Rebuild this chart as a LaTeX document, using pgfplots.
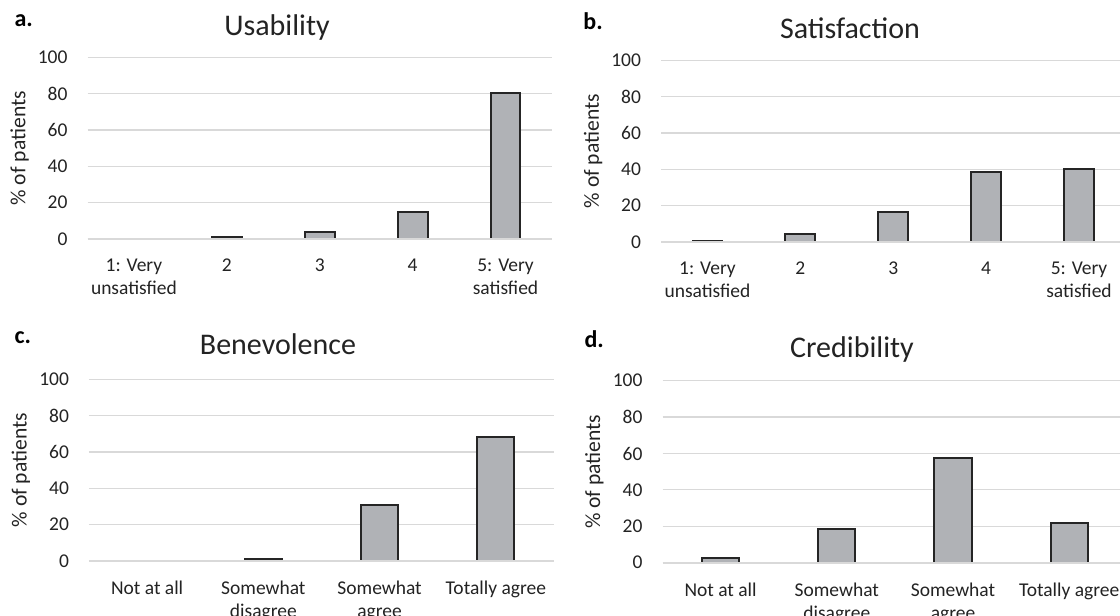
\documentclass[border=0pt]{standalone}
\usepackage{pgfplots}
\pgfplotsset{compat=1.18}
\usepackage{fontspec}
\setmainfont{Carlito}

\definecolor{barfill}{RGB}{176,178,182}
\definecolor{baredge}{RGB}{37,37,37}
\definecolor{gridgray}{RGB}{217,217,217}
\definecolor{textgray}{RGB}{35,35,35}

% 1 px of the reference = 0.5pt
\pgfplotsset{
  panel/.style={
    scale only axis,
    anchor=south west,
    ymin=0, ymax=100,
    ytick={0,20,...,100},
    ymajorgrids,
    grid style={gridgray, line width=0.6pt},
    axis line style={draw=none},
    major tick length=0pt,
    tick style={draw=none},
    ybar, bar width=0.32,
    xtick=data,
    ylabel={\% of patients},
    every axis y label/.style={at={(axis description cs:-0.1463,0.5)}, rotate=90, anchor=center},
    ylabel style={font=\fontsize{10.8}{12}\selectfont, text=textgray},
    ticklabel style={font=\fontsize{9.75}{11.5}\selectfont, text=textgray},
    xticklabel style={align=center, anchor=north},
    yticklabel shift=6.5pt,
    xticklabel shift=6.5pt,
    /pgf/number format/assume math mode=true,
    clip=false,
  },
  bars/.style={fill=barfill, draw=baredge, line width=1pt},
}

\newcommand{\zeroline}{\draw[gridgray, line width=0.9pt] (rel axis cs:0,0) -- (rel axis cs:1,0);}

\begin{document}
\begin{tikzpicture}
\useasboundingbox (0pt,0pt) rectangle (560pt,308pt);
\clip (0pt,0pt) rectangle (560pt,308pt);

% a. Usability
\begin{axis}[panel,
  at={(43.75pt,188.5pt)}, width=232.25pt, height=90.8pt,
  xmin=-0.5, xmax=4.5,
  xticklabels={{1: Very\\unsatisfied},2,3,4,{5: Very\\satisfied}}]
\addplot[bars] coordinates {(0,0) (1,0.9) (2,3.8) (3,14.8) (4,80.6)};
\zeroline
\end{axis}

% b. Satisfaction
\begin{axis}[panel,
  at={(330.5pt,187pt)}, width=232.25pt, height=90.9pt,
  xmin=-0.5, xmax=4.5,
  xticklabels={{1: Very\\unsatisfied},2,3,4,{5: Very\\satisfied}}]
\addplot[bars] coordinates {(0,0.8) (1,4.2) (2,16.5) (3,38.4) (4,40.3)};
\zeroline
\end{axis}

% c. Benevolence
\begin{axis}[panel,
  at={(44.5pt,27.5pt)}, width=232.5pt, height=90.85pt,
  xmin=-0.5, xmax=3.5,
  xticklabels={Not at all,{Somewhat\\disagree},{Somewhat\\agree},Totally agree}]
\addplot[bars] coordinates {(0,0) (1,1.1) (2,30.8) (3,68.2)};
\zeroline
\end{axis}

% d. Credibility
\begin{axis}[panel,
  at={(331.25pt,26.65pt)}, width=232.4pt, height=91pt,
  xmin=-0.5, xmax=3.5,
  xticklabels={Not at all,{Somewhat\\disagree},{Somewhat\\agree},Totally agree}]
\addplot[bars] coordinates {(0,2.5) (1,18.3) (2,57.5) (3,21.8)};
\zeroline
\end{axis}

% titles
\begin{scope}[every node/.style={text=textgray, font=\fontsize{15}{17}\selectfont, anchor=base, inner sep=0pt}]
\node at (138.5pt,290.25pt) {Usability};
\node at (425pt,288.6pt) {Satisfaction};
\node at (139pt,130.5pt) {Benevolence};
\node at (426pt,129.35pt) {Credibility};
\end{scope}
% panel letters
\begin{scope}[every node/.style={text=black, font=\fontsize{12}{14}\selectfont\bfseries, anchor=base west, inner sep=0pt}]
\node at (7.1pt,294.5pt) {a.};
\node at (291.5pt,293.1pt) {b.};
\node at (7.1pt,136.1pt) {c.};
\node at (292.1pt,134.4pt) {d.};
\end{scope}
\end{tikzpicture}
\end{document}
